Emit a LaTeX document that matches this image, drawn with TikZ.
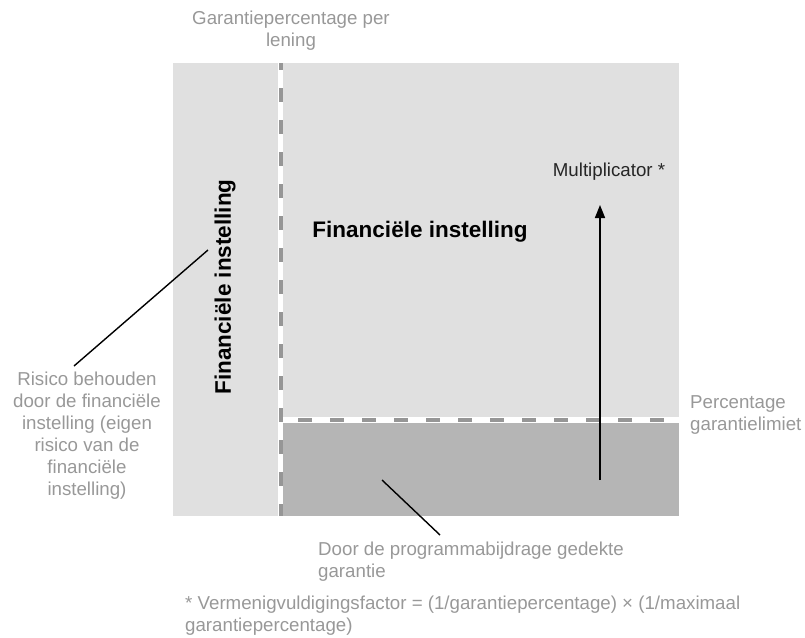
\documentclass[tikz,border=0pt]{standalone}
\usepackage{fontspec}
\setmainfont{Liberation Sans}
\usepackage{tikz}
\usetikzlibrary{arrows.meta}

\definecolor{lightfill}{RGB}{224,224,224}
\definecolor{darkfill}{RGB}{181,181,181}
\definecolor{dashgray}{RGB}{150,150,150}
\definecolor{labelgray}{RGB}{152,152,152}

\begin{document}
\begin{tikzpicture}[x=1pt,y=-1pt,
area/.style={fill=lightfill,draw=none},
cover/.style={fill=darkfill,draw=none},
limit/.style={draw=dashgray,line width=4pt,dash pattern=on 14pt off 18pt},
note/.style={text=labelgray,inner sep=0pt,font=\fontsize{18.7}{22}\selectfont},
title/.style={inner sep=0pt,font=\fontsize{22.5}{26}\selectfont\bfseries},
leader/.style={draw=black,line width=1.4pt}
]
\useasboundingbox (0,0) rectangle (805,637);
% areas
\path[area] (173,63) rectangle (278,516);
\path[area] (283,63) rectangle (679,417);
\path[cover] (283,423) rectangle (679,516);
% limits
\draw[limit,dash phase=7pt] (280.5,63) -- (280.5,516);
\draw[limit,dash phase=17pt] (283,420) -- (679,420);
% texts
\node[note,align=center] (perloan) at (291,31) {Garantiepercentage per\\lening};
\node[title,rotate=90] (ownrisk) at (225,287) {Financiële instelling};
\node[title] (lender) at (420,232) {Financiële instelling};
\node[inner sep=0pt,font=\fontsize{18.7}{22}\selectfont,text=black!85] (mult) at (609,172) {Multiplicator *};
\node[note,align=left,anchor=west] (limitlabel) at (690,415) {Percentage\\garantielimiet};
\node[note,align=center] (risk) at (87,436) {Risico behouden\\door de financiële\\instelling (eigen\\risico van de\\financiële\\instelling)};
\node[note,align=left,anchor=west] (door) at (318,562) {Door de programmabijdrage gedekte\\garantie};
\node[note,align=left,anchor=west] (factor) at (185,616) {* Vermenigvuldigingsfactor = (1/garantiepercentage) × (1/maximaal\\garantiepercentage)};
% leaders
\coordinate (riskfoot) at (74,366);
\coordinate (risktip) at (208,250);
\coordinate (doorfoot) at (440,535);
\coordinate (doortip) at (382,480);
\coordinate (arrowfoot) at (600,480);
\coordinate (arrowtip) at (600,205);
\draw[leader] (riskfoot) -- (risktip);
\draw[leader] (doorfoot) -- (doortip);
\draw[leader,line width=1.6pt,-{Triangle[width=10pt,length=13pt]}] (arrowfoot) -- (arrowtip);
\end{tikzpicture}
\end{document}
